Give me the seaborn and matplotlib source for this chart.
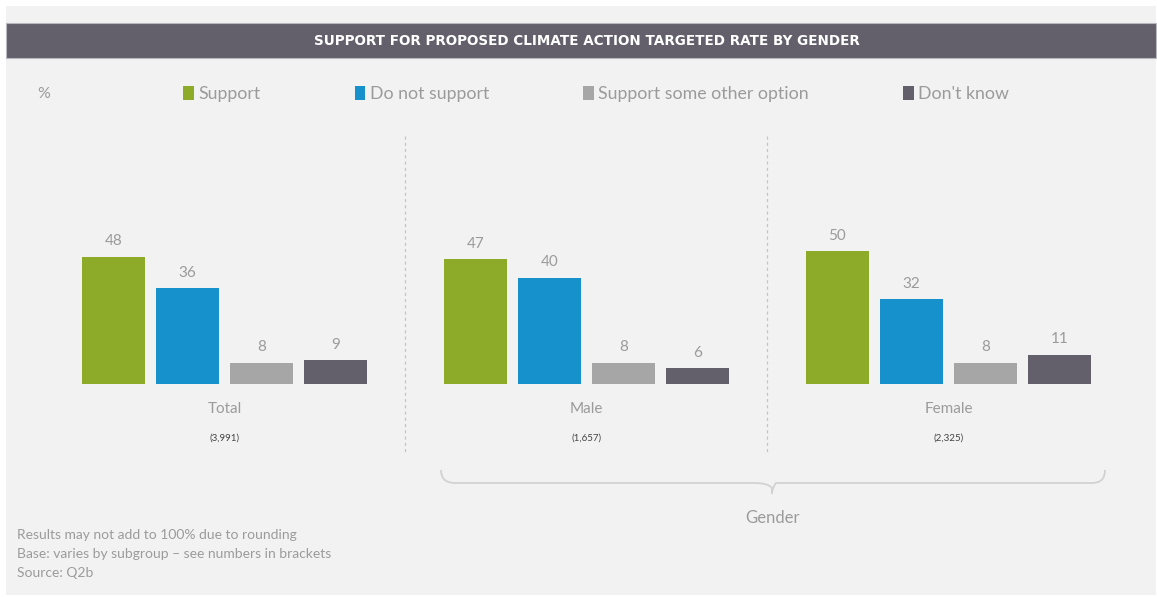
import matplotlib
matplotlib.use("Agg")
import matplotlib.pyplot as plt
from matplotlib.path import Path
from matplotlib.patches import PathPatch, Rectangle
import seaborn as sns
import pandas as pd

# ---- data ----
groups = ["Total", "Male", "Female"]
bases = ["(3,991)", "(1,657)", "(2,325)"]
responses = ["Support", "Do not support", "Support some other option", "Don't know"]
support = [48, 47, 50]
not_support = [36, 40, 32]
other_option = [8, 8, 8]
dont_know = [9, 6, 11]
title = "SUPPORT FOR PROPOSED CLIMATE ACTION TARGETED RATE BY GENDER"
notes = ["Results may not add to 100% due to rounding",
         "Base: varies by subgroup \u2013 see numbers in brackets",
         "Source: Q2b"]

colors = ["#8eaa29", "#1691cb", "#a6a6a6", "#63606c"]
grey_txt = "#9b9b9b"
body_font = ["Lato", "DejaVu Sans"]

rows = []
for vals, resp in zip([support, not_support, other_option, dont_know], responses):
    for g, v in zip(groups, vals):
        rows.append({"group": g, "response": resp, "value": v})
df = pd.DataFrame(rows)

sns.set_theme(style="white")
plt.rcParams["font.family"] = body_font

W, H = 1157, 597
fig = plt.figure(figsize=(W / 100, H / 100), dpi=100, facecolor="white")

# overlay in pixel coordinates
ov = fig.add_axes([0, 0, 1, 1], zorder=0)
ov.set_xlim(0, W)
ov.set_ylim(H, 0)
ov.axis("off")
ov.add_patch(Rectangle((6, 6), W - 7, H - 8, facecolor="#f2f2f2", edgecolor="none"))
ov.add_patch(Rectangle((6, 23), W - 7, 35, facecolor="#63606c", edgecolor="#b9b8be", lw=0.8))
ov.text(587, 41, title, color="white", fontsize=9.75, fontweight="bold",
        family=["DejaVu Sans"], ha="center", va="center")
ov.text(37, 94, "%", color=grey_txt, fontsize=11.5, ha="left", va="center")

# separators
for x in [404.5, 766.5]:
    ov.plot([x, x], [136, 452], color="#c4c4c4", lw=0.9, ls=(0, (2.5, 2.5)))

# brace
verts = [(441, 470), (441, 483), (455, 483), (755, 483),
         (768, 483), (772, 488), (772, 494),
         (772, 488), (776, 483), (789, 483),
         (1092, 483), (1105, 483), (1105, 470)]
codes = [Path.MOVETO, Path.CURVE3, Path.CURVE3, Path.LINETO,
         Path.CURVE3, Path.CURVE3, Path.LINETO,
         Path.CURVE3, Path.CURVE3, Path.LINETO,
         Path.LINETO, Path.CURVE3, Path.CURVE3]
ov.add_patch(PathPatch(Path(verts, codes), facecolor="none", edgecolor="#d2d2d2", lw=1.3))
ov.text(772, 518, "Gender", color=grey_txt, fontsize=12, ha="center", va="center")

for i, line in enumerate(notes):
    ov.text(17, 535 + i * 19, line, color=grey_txt, fontsize=10, ha="left", va="center")

# main bar axes
ax = fig.add_axes([43.5 / W, (H - 384) / H, 1086 / W, 159.3 / H], zorder=1)
ax.patch.set_alpha(0)
sns.barplot(data=df, x="group", y="value", hue="response", order=groups,
            hue_order=responses, palette=colors, width=0.818, gap=0.14,
            saturation=1, errorbar=None, linewidth=0, ax=ax)
ax.set_xlim(-0.5, 2.5)
ax.set_ylim(0, 60)
for c in ax.containers:
    ax.bar_label(c, fmt="%d", padding=6, color=grey_txt, fontsize=11)
ax.set_xlabel("")
ax.set_ylabel("")
ax.set_yticks([])
ax.tick_params(axis="x", length=0, pad=13, labelsize=11, labelcolor=grey_txt)
for s in ax.spines.values():
    s.set_visible(False)
for i, b in enumerate(bases):
    ax.annotate(b, xy=(i, 0), xycoords=("data", "data"), xytext=(0, -39),
                textcoords="offset points", ha="center", va="center",
                fontsize=7, color="#444444")

sns.move_legend(ax, "center left", bbox_to_anchor=(183 / W, (H - 94) / H),
                bbox_transform=fig.transFigure, ncol=4, frameon=False, title=None,
                fontsize=12.8, handlelength=0.6, handleheight=0.83, handletextpad=0.25,
                columnspacing=5.3, borderaxespad=0, borderpad=0)
for t in ax.get_legend().get_texts():
    t.set_color(grey_txt)

fig.savefig("out.png", dpi=100, facecolor="white")
